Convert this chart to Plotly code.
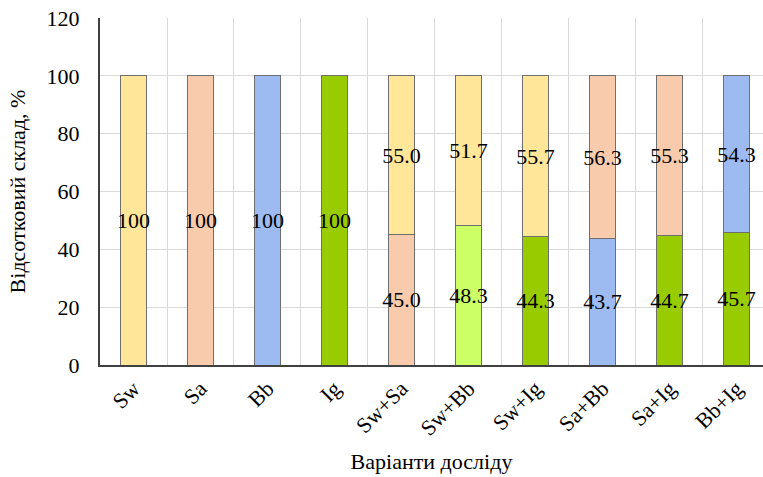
import plotly.graph_objects as go

categories = ["Sw", "Sa", "Bb", "Ig", "Sw+Sa", "Sw+Bb", "Sw+Ig", "Sa+Bb", "Sa+Ig", "Bb+Ig"]
bottom_values = [100, 100, 100, 100, 45.0, 48.3, 44.3, 43.7, 44.7, 45.7]
top_values = [None, None, None, None, 55.0, 51.7, 55.7, 56.3, 55.3, 54.3]
bottom_labels = ["100", "100", "100", "100", "45.0", "48.3", "44.3", "43.7", "44.7", "45.7"]
top_labels = ["", "", "", "", "55.0", "51.7", "55.7", "56.3", "55.3", "54.3"]

YELLOW = "#FFE699"
PEACH = "#F8CBAD"
BLUE = "#9DBBF1"
GREEN = "#99CC00"
LIGHTGREEN = "#CCFF66"

bottom_colors = [YELLOW, PEACH, BLUE, GREEN, PEACH, LIGHTGREEN, GREEN, BLUE, GREEN, GREEN]
top_colors = [YELLOW, YELLOW, YELLOW, YELLOW, YELLOW, YELLOW, YELLOW, PEACH, PEACH, BLUE]

FONT = "Liberation Serif"
FS = 22

fig = go.Figure()
fig.add_trace(go.Bar(
    x=categories, y=bottom_values, width=0.4,
    marker=dict(color=bottom_colors, line=dict(color="#6f6f6f", width=1)),
    text=bottom_labels, textposition="inside", insidetextanchor="middle",
    textangle=0, constraintext="none",
    insidetextfont=dict(family=FONT, size=FS, color="black"),
    showlegend=False, hoverinfo="skip",
))
fig.add_trace(go.Bar(
    x=categories, y=top_values, width=0.4,
    marker=dict(color=top_colors, line=dict(color="#6f6f6f", width=1)),
    text=top_labels, textposition="inside", insidetextanchor="middle",
    textangle=0, constraintext="none",
    insidetextfont=dict(family=FONT, size=FS, color="black"),
    showlegend=False, hoverinfo="skip",
))

fig.update_layout(
    barmode="stack",
    width=763, height=477,
    margin=dict(l=100, r=0, t=18, b=112),
    paper_bgcolor="white", plot_bgcolor="white",
    font=dict(family=FONT, size=FS, color="black"),
)
fig.update_xaxes(
    type="category", range=[-0.5, 9.396],
    tickson="boundaries", ticks="",
    showgrid=True, gridcolor="#d9d9d9", gridwidth=1,
    showline=True, linecolor="#404040", linewidth=2,
    tickangle=-45, tickfont=dict(family=FONT, size=FS, color="black"),
    title=dict(text="Варіанти досліду", font=dict(family=FONT, size=FS, color="black"), standoff=14),
)
fig.update_yaxes(
    range=[0, 120], dtick=20, tick0=0,
    showgrid=True, gridcolor="#d9d9d9", gridwidth=1,
    showline=True, linecolor="#404040", linewidth=2,
    ticks="outside", ticklen=14, tickcolor="rgba(0,0,0,0)", zeroline=False,
    tickfont=dict(family=FONT, size=FS, color="black"),
    title=dict(text="Відсотковий склад, %", font=dict(family=FONT, size=FS, color="black"), standoff=15),
)

fig.write_html("out.html")
